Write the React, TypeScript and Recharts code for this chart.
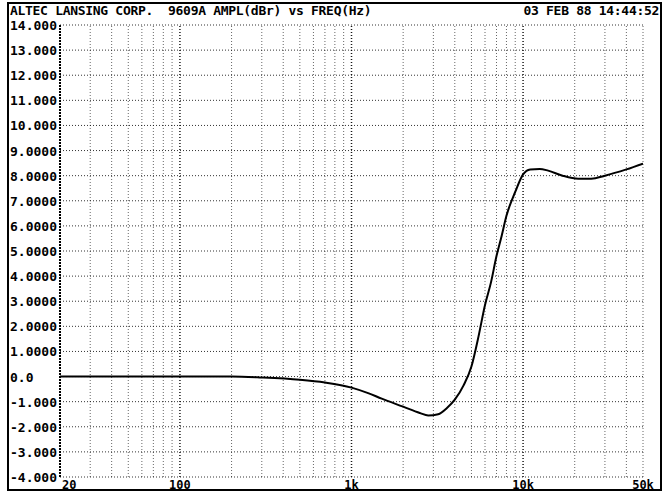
import {
  LineChart,
  Line,
  XAxis,
  YAxis,
  CartesianGrid,
  ReferenceLine,
} from "recharts";

const TITLE = "ALTEC LANSING CORP.  9609A AMPL(dBr) vs FREQ(Hz)";
const STAMP = "03 FEB 88 14:44:52";

// frequency (Hz) and level (dBr)
const FREQ = [
  20, 50, 100, 200, 300, 500, 700, 1000, 1250, 1500, 2000, 2500, 2800, 3200,
  3600, 4000, 4500, 5000, 5500, 6000, 6500, 7000, 7500, 8000, 9000, 10000,
  11000, 12500, 14000, 17000, 21000, 25000, 30000, 40000, 50000,
];
const LEVEL = [
  0, 0, 0, 0, -0.04, -0.13, -0.24, -0.44, -0.66, -0.88, -1.2, -1.45, -1.55,
  -1.5, -1.25, -0.92, -0.35, 0.4, 1.6, 2.85, 3.75, 4.8, 5.6, 6.4, 7.35, 8.05,
  8.25, 8.27, 8.2, 8.0, 7.88, 7.88, 8.0, 8.25, 8.48,
];

const Y_TICKS = [-4, -3, -2, -1, 0, 1, 2, 3, 4, 5, 6, 7, 8, 9, 10, 11, 12, 13, 14];
const Y_LABELS = [
  "-4.000", "-3.000", "-2.000", "-1.000", "0.0", "1.0000", "2.0000", "3.0000",
  "4.0000", "5.0000", "6.0000", "7.0000", "8.0000", "9.0000", "10.000",
  "11.000", "12.000", "13.000", "14.000",
];

const X_TICKS = [20, 100, 1000, 10000, 50000];
const X_LABELS = ["20", "100", "1k", "10k", "50k"];

const GRID_FREQS = [
  30, 40, 50, 60, 70, 80, 90, 100, 200, 300, 400, 500, 600, 700, 800, 900,
  1000, 2000, 3000, 4000, 5000, 6000, 7000, 8000, 9000, 10000, 20000, 30000,
  40000, 50000,
];
const DECADES = [100, 1000, 10000];

const data = FREQ.map((f, i) => ({ f, v: LEVEL[i] }));

const FONT = "'DejaVu Sans Mono', monospace";

function YTick(props: any) {
  const { y, payload } = props;
  const i = Y_TICKS.indexOf(payload.value);
  return (
    <text x={10} y={y} dy={5} textAnchor="start" fontFamily={FONT} fontWeight="bold" fontSize={13} fill="#000">
      {Y_LABELS[i]}
    </text>
  );
}

function XTick(props: any) {
  const { x, payload } = props;
  const i = X_TICKS.indexOf(payload.value);
  return (
    <text
      x={i === 0 ? x + 2 : x}
      y={489}
      textAnchor={i === 0 ? "start" : "middle"}
      fontFamily={FONT}
      fontWeight="bold"
      fontSize={12}
      fill="#000"
    >
      {X_LABELS[i]}
    </text>
  );
}

const headerStyle = {
  position: "absolute" as const,
  top: 4,
  fontFamily: FONT,
  fontWeight: "bold",
  fontSize: 13,
  whiteSpace: "pre" as const,
  lineHeight: "14px",
  letterSpacing: -0.3,
};

export default function App() {
  return (
    <div style={{ position: "absolute", left: 0, top: 0, width: 672, height: 499, background: "#fff" }}>
      <LineChart width={672} height={499} data={data} margin={{ top: 25, right: 29, left: 0, bottom: 0 }}>
        <CartesianGrid vertical={false} stroke="#000" strokeDasharray="1 2" strokeOpacity={0.8} />
        <XAxis
          dataKey="f"
          type="number"
          scale="log"
          domain={[20, 50000]}
          ticks={X_TICKS}
          tick={<XTick />}
          axisLine={false}
          tickLine={false}
          height={22}
          allowDataOverflow
        />
        <YAxis
          type="number"
          domain={[-4, 14]}
          ticks={Y_TICKS}
          tick={<YTick />}
          axisLine={false}
          tickLine={false}
          width={60}
          interval={0}
        />
        <ReferenceLine x={20} stroke="#000" strokeWidth={2} strokeDasharray="2 1" />
        {GRID_FREQS.map((g) => (
          <ReferenceLine
            key={g}
            x={g}
            stroke="#000"
            strokeWidth={DECADES.includes(g) ? 1.5 : 1}
            strokeDasharray="1 2"
            strokeOpacity={DECADES.includes(g) ? 0.9 : 0.6}
          />
        ))}
        <Line
          dataKey="v"
          type="monotone"
          stroke="#000"
          strokeWidth={2}
          dot={false}
          isAnimationActive={false}
        />
      </LineChart>
      <div
        style={{
          position: "absolute",
          left: 7,
          top: 2,
          width: 651,
          height: 485,
          border: "2px solid #000",
          pointerEvents: "none",
        }}
      />
      <div style={{ ...headerStyle, left: 10 }}>{TITLE}</div>
      <div style={{ ...headerStyle, right: 13 }}>{STAMP}</div>
    </div>
  );
}
